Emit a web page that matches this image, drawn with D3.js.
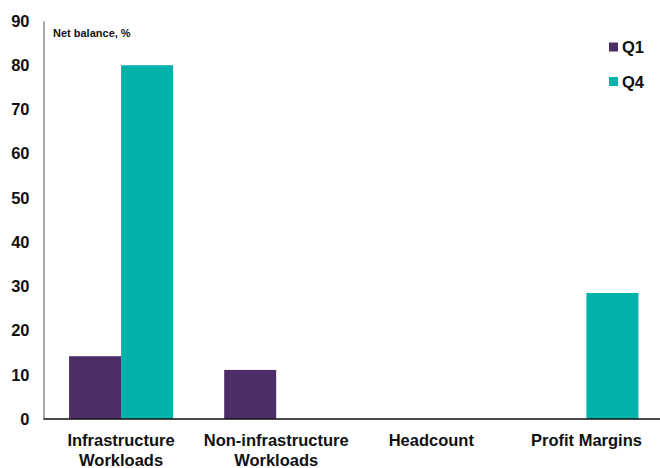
<!DOCTYPE html>
<html>
<head>
<meta charset="utf-8">
<script src="https://cdn.jsdelivr.net/npm/d3@7"></script>
<style>
  html, body { margin: 0; padding: 0; background: #fff; }
  svg { display: block; font-family: "Liberation Sans", Arial, sans-serif; }
</style>
</head>
<body>
<svg id="chart" width="660" height="468"></svg>
<script>
// Survey net balances by category
const categories = [["Infrastructure", "Workloads"], ["Non-infrastructure", "Workloads"], ["Headcount"], ["Profit Margins"]];
const seriesNames = ["Q1", "Q4"];
const q1Values = [14.2, 11.1, 0, 0];
const q4Values = [80, 0, 0, 28.5];
const yTicks = [0, 10, 20, 30, 40, 50, 60, 70, 80, 90];
const colors = ["#4B2D68", "#00B2A9"];

const svg = d3.select("#chart");
const margin = { left: 43.5, top: 21, bottom: 419, right: 664 };

const x = d3.scaleBand()
  .domain(d3.range(categories.length))
  .range([margin.left, margin.right])
  .paddingInner(0)
  .paddingOuter(0);

const groupWidth = 104;
const xs = d3.scaleBand()
  .domain(seriesNames)
  .range([0, groupWidth]);

const y = d3.scaleLinear().domain([0, 90]).range([margin.bottom, margin.top]);

const series = [q1Values, q4Values];

// bars
series.forEach((vals, si) => {
  svg.append("g").selectAll("rect")
    .data(vals)
    .join("rect")
    .attr("x", (d, i) => x(i) + (x.bandwidth() - groupWidth) / 2 + xs(seriesNames[si]))
    .attr("width", xs.bandwidth())
    .attr("y", d => y(d))
    .attr("height", d => y(0) - y(d))
    .attr("fill", colors[si]);
});

// y axis
const yAxis = svg.append("g")
  .attr("transform", `translate(${margin.left},0)`)
  .call(d3.axisLeft(y).tickValues(yTicks).tickSize(0).tickPadding(14));
yAxis.select(".domain").attr("stroke", "#8c8c8c").attr("stroke-width", 1.5);
yAxis.selectAll("text")
  .attr("font-size", 16.5).attr("font-weight", "bold").attr("fill", "#111")
  .attr("font-family", "'Liberation Sans', Arial, sans-serif");

// x baseline
svg.append("line")
  .attr("x1", margin.left).attr("x2", 660)
  .attr("y1", y(0)).attr("y2", y(0))
  .attr("stroke", "#111").attr("stroke-width", 1.5);

// category labels
const catG = svg.append("g");
categories.forEach((lines, i) => {
  const t = catG.append("text")
    .attr("x", x(i) + x.bandwidth() / 2)
    .attr("y", 446)
    .attr("text-anchor", "middle")
    .attr("font-size", 16.5).attr("font-weight", "bold").attr("fill", "#111");
  lines.forEach((l, j) => {
    t.append("tspan").attr("x", x(i) + x.bandwidth() / 2).attr("dy", j === 0 ? 0 : 20).text(l);
  });
});

// unit label
svg.append("text")
  .attr("x", 53).attr("y", 37)
  .attr("font-size", 11).attr("font-weight", "bold").attr("fill", "#111")
  .text("Net balance, %");

// legend
seriesNames.forEach((name, i) => {
  const cy = 47 + i * 34.5;
  svg.append("rect")
    .attr("x", 609).attr("y", cy - 4.5).attr("width", 9).attr("height", 9)
    .attr("fill", colors[i]);
  svg.append("text")
    .attr("x", 622).attr("y", cy + 6)
    .attr("font-size", 16.5).attr("font-weight", "bold").attr("fill", "#111")
    .text(name);
});
</script>
</body>
</html>
